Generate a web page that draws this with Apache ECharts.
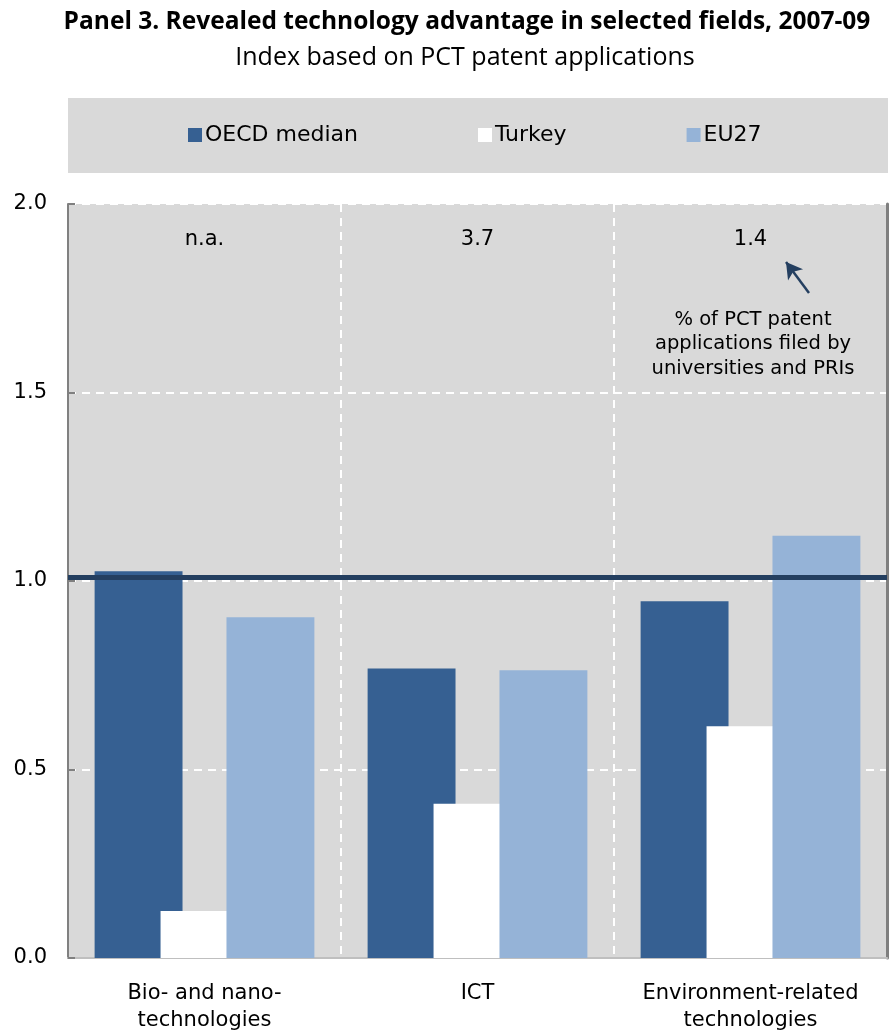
<!DOCTYPE html>
<html>
<head>
<meta charset="utf-8">
<script src="https://cdn.jsdelivr.net/npm/echarts@6/dist/echarts.min.js"></script>
<style>html,body{margin:0;padding:0;background:#fff;}#c{width:889px;height:1034px;}</style>
</head>
<body>
<div id="c"></div>
<script>
var categories = ['Bio- and nano-\ntechnologies', 'ICT', 'Environment-related\ntechnologies'];
var oecdMedian = [1.026, 0.768, 0.946];
var turkey = [0.125, 0.409, 0.615];
var eu27 = [0.904, 0.763, 1.12];
var turkeyRtaLine = 1.007;
var uniShareLabels = ['n.a.', '3.7', '1.4'];
var uniShareY = [1.905, 1.905, 1.905];

var chart = echarts.init(document.getElementById('c'), null, {renderer: 'canvas'});
var F = '"DejaVu Sans", "Liberation Sans", sans-serif';
var option = {
  animation: false,
  backgroundColor: '#ffffff',
  grid: {left: 68, right: 2, top: 204, bottom: 73, show: true, backgroundColor: '#d9d9d9', borderWidth: 0},
  legend: {
    left: 188, top: 124,
    padding: 0,
    itemWidth: 14, itemHeight: 14, itemGap: 120,
    icon: 'rect',
    textStyle: {fontFamily: F, fontSize: 22, color: '#000', padding: [0, 0, 0, -2]},
    data: ['OECD median', 'Turkey', 'EU27']
  },
  xAxis: [{
    type: 'category', data: categories, position: 'bottom',
    axisLine: {show: true, lineStyle: {color: '#8c8c8c', width: 2, type: [7, 5]}},
    axisTick: {show: false},
    axisLabel: {fontFamily: F, fontSize: 21, color: '#000', margin: 22, lineHeight: 27, interval: 0},
    splitLine: {show: true, lineStyle: {color: '#ffffff', width: 2, type: [8, 6]}}
  }, {
    type: 'category', data: categories, position: 'top',
    axisLine: {show: true, lineStyle: {color: '#bfbfbf', width: 2}},
    axisTick: {show: false}, axisLabel: {show: false}, splitLine: {show: false}
  }],
  yAxis: [{
    type: 'value', min: 0, max: 2, interval: 0.5,
    axisLine: {show: true, lineStyle: {color: '#808080', width: 2}},
    axisTick: {show: true, inside: true, length: 7, lineStyle: {color: '#808080', width: 2}},
    axisLabel: {fontFamily: F, fontSize: 21, color: '#000', margin: 21,
      formatter: function (v) { return v.toFixed(1); }},
    splitLine: {show: true, lineStyle: {color: '#ffffff', width: 2, type: [8, 6]}}
  }, {
    type: 'value', min: 0, max: 2, interval: 0.5, position: 'right',
    axisLine: {show: true, lineStyle: {color: '#7f7f7f', width: 3}},
    axisTick: {show: false}, axisLabel: {show: false}, splitLine: {show: false}
  }],
  series: [{
    name: 'OECD median', type: 'bar', data: oecdMedian,
    barWidth: '32.2%', barGap: '-25%',
    itemStyle: {color: '#366092'},
    markLine: {
      silent: true, symbol: 'none',
      label: {show: false},
      lineStyle: {color: '#243f60', width: 5, type: 'solid'},
      data: [{yAxis: turkeyRtaLine}]
    }
  }, {
    name: 'Turkey', type: 'bar', data: turkey,
    barWidth: '32.2%', barGap: '-25%',
    itemStyle: {color: '#ffffff'}
  }, {
    name: 'EU27', type: 'bar', data: eu27,
    barWidth: '32.2%', barGap: '-25%',
    itemStyle: {color: '#95b3d7'}
  }, {
    name: 'uni', type: 'scatter', symbolSize: 0,
    itemStyle: {opacity: 1},
    data: categories.map(function (c, i) { return [c, uniShareY[i]]; }),
    label: {show: true, position: 'inside', fontFamily: F, fontSize: 21, color: '#000', opacity: 1,
      formatter: function (p) { return uniShareLabels[p.dataIndex]; }},
    markLine: {
      silent: true, symbol: ['none', 'arrow'], symbolSize: [14, 16],
      label: {show: false},
      lineStyle: {color: '#243f60', width: 2.5, type: 'solid', opacity: 1},
      data: [[{x: 809, y: 293}, {x: 786, y: 262}]]
    }
  }],
  graphic: [{
    type: 'rect', z: -10, silent: true,
    shape: {x: 68, y: 98, width: 820, height: 75},
    style: {fill: '#d9d9d9'}
  }, {
    type: 'text',
    style: {x: 467, y: 22, text: 'Panel 3. Revealed technology advantage in selected fields, 2007-09',
      textAlign: 'center', textVerticalAlign: 'middle',
      font: 'bold 24.5px "Open Sans", sans-serif', fill: '#000'}
  }, {
    type: 'text',
    style: {x: 465, y: 58, text: 'Index based on PCT patent applications',
      textAlign: 'center', textVerticalAlign: 'middle',
      font: '25px "Open Sans", sans-serif', fill: '#000'}
  }, {
    type: 'text',
    style: {x: 753, y: 344, text: '% of PCT patent\napplications filed by\nuniversities and PRIs',
      textAlign: 'center', textVerticalAlign: 'middle', lineHeight: 24.5,
      font: '19.5px "DejaVu Sans", sans-serif', fill: '#000'}
  }]
};
chart.setOption(option);
</script>
</body>
</html>
